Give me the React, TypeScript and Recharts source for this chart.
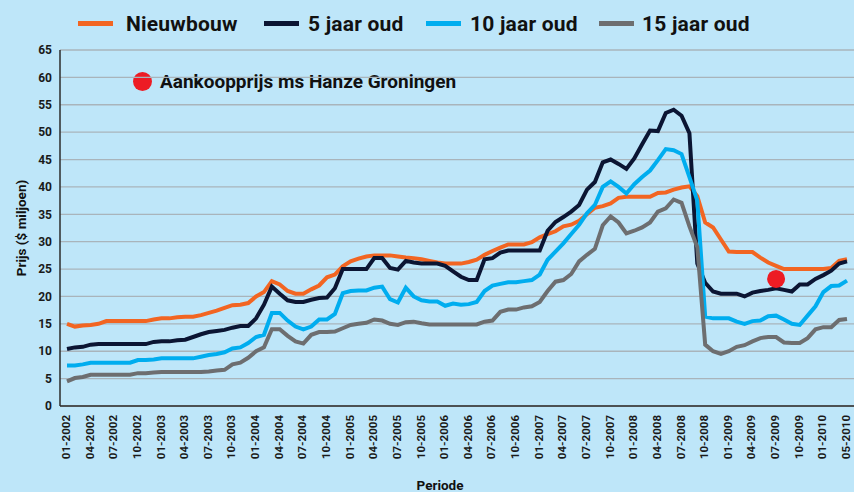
import { LineChart, Line, XAxis, YAxis, CartesianGrid, ReferenceDot } from 'recharts';

// maandlabels 01-2002 .. 03-2010, daarna 05-2010 (zoals in de bron)
const categories: string[] = [...Array(99)]
    .map((_, i) => `${String((i % 12) + 1).padStart(2, '0')}-${2002 + Math.floor(i / 12)}`)
    .concat(['05-2010']);

const nieuwbouw = [
    15.0, 14.5, 14.7, 14.8, 15.0, 15.5, 15.5, 15.5, 15.5, 15.5, 15.5, 15.8, 16.0, 16.0, 16.2, 16.3, 16.3, 16.6, 17.0, 17.4,
    17.9, 18.4, 18.5, 18.8, 20.0, 20.8, 22.8, 22.2, 21.0, 20.5, 20.5, 21.3, 22.0, 23.5, 24.0, 25.5, 26.4, 26.9, 27.3, 27.5,
    27.5, 27.5, 27.3, 27.1, 27.0, 26.8, 26.5, 26.2, 26.0, 26.0, 26.0, 26.3, 26.7, 27.6, 28.3, 28.9, 29.5, 29.5, 29.5, 29.9,
    30.8, 31.4, 31.9, 32.8, 33.1, 33.8, 35.0, 36.2, 36.5, 37.0, 38.0, 38.2, 38.2, 38.2, 38.2, 38.9, 39.0, 39.5, 39.9, 40.1,
    38.3, 33.5, 32.6, 30.4, 28.2, 28.1, 28.1, 28.1, 27.1, 26.2, 25.6, 25.0, 25.0, 25.0, 25.0, 25.0, 25.0, 25.2, 26.5, 26.8,
];

const jaar5 = [
    10.4, 10.7, 10.8, 11.2, 11.3, 11.3, 11.3, 11.3, 11.3, 11.3, 11.3, 11.7, 11.8, 11.8, 12.0, 12.1, 12.6, 13.1, 13.5, 13.7,
    13.9, 14.3, 14.6, 14.6, 16.0, 18.5, 21.8, 20.5, 19.3, 19.0, 19.0, 19.4, 19.7, 19.8, 21.5, 25.0, 25.0, 25.0, 25.0, 27.0,
    27.0, 25.2, 24.9, 26.5, 26.2, 26.0, 26.0, 26.0, 25.6, 24.6, 23.6, 23.0, 23.0, 26.8, 27.0, 28.0, 28.4, 28.4, 28.4, 28.4,
    28.4, 32.0, 33.6, 34.5, 35.5, 36.7, 39.5, 40.9, 44.5, 45.0, 44.2, 43.3, 45.2, 47.8, 50.3, 50.2, 53.5, 54.1, 53.0, 49.8,
    26.0, 22.5, 20.9, 20.5, 20.5, 20.5, 20.0, 20.7, 21.0, 21.2, 21.5, 21.2, 20.9, 22.2, 22.2, 23.2, 23.9, 24.7, 26.0, 26.4,
];

const jaar10 = [
    7.4, 7.4, 7.6, 7.9, 7.9, 7.9, 7.9, 7.9, 7.9, 8.4, 8.4, 8.5, 8.7, 8.7, 8.7, 8.7, 8.7, 9.0, 9.3, 9.5,
    9.8, 10.5, 10.7, 11.5, 12.6, 13.0, 17.0, 17.0, 15.6, 14.5, 14.0, 14.5, 15.8, 15.8, 16.8, 20.6, 21.0, 21.1, 21.1, 21.6,
    21.8, 19.5, 18.9, 21.6, 20.0, 19.3, 19.1, 19.1, 18.3, 18.7, 18.5, 18.6, 19.0, 21.0, 22.0, 22.3, 22.6, 22.6, 22.8, 23.0,
    24.0, 26.7, 28.2, 29.7, 31.4, 33.1, 35.2, 36.7, 40.0, 41.0, 40.0, 38.8, 40.5, 41.8, 43.0, 44.9, 46.9, 46.7, 46.0, 41.8,
    37.5, 16.3, 16.0, 16.0, 16.0, 15.4, 15.0, 15.5, 15.6, 16.4, 16.5, 15.8, 15.0, 14.8, 16.5, 18.2, 20.8, 21.9, 22.0, 22.9,
];

const jaar15 = [
    4.5, 5.1, 5.3, 5.7, 5.7, 5.7, 5.7, 5.7, 5.7, 6.0, 6.0, 6.1, 6.2, 6.2, 6.2, 6.2, 6.2, 6.2, 6.3, 6.5,
    6.6, 7.6, 7.9, 8.8, 10.0, 10.7, 14.0, 14.0, 12.8, 11.8, 11.4, 13.0, 13.5, 13.5, 13.6, 14.2, 14.8, 15.0, 15.2, 15.8,
    15.6, 15.0, 14.8, 15.3, 15.4, 15.1, 14.9, 14.9, 14.9, 14.9, 14.9, 14.9, 14.9, 15.4, 15.6, 17.2, 17.6, 17.6, 18.0, 18.2,
    19.0, 21.0, 22.7, 23.0, 24.1, 26.4, 27.6, 28.7, 33.0, 34.6, 33.5, 31.5, 32.0, 32.6, 33.5, 35.5, 36.1, 37.7, 37.1, 32.8,
    29.0, 11.2, 10.0, 9.5, 10.0, 10.8, 11.1, 11.8, 12.4, 12.6, 12.6, 11.6, 11.5, 11.5, 12.4, 14.0, 14.4, 14.4, 15.7, 15.9,
];

const yTicks = [0, 5, 10, 15, 20, 25, 30, 35, 40, 45, 50, 55, 60, 65];

const aankoopMaand = '07-2009';
const aankoopPrijs = 23.2;
const aankoopLabel = 'Aankoopprijs ms Hanze Groningen';

const series = [
    { key: 'nieuwbouw', name: 'Nieuwbouw', color: '#f26522' },
    { key: 'jaar5', name: '5 jaar oud', color: '#0b1533' },
    { key: 'jaar10', name: '10 jaar oud', color: '#00adef' },
    { key: 'jaar15', name: '15 jaar oud', color: '#6d6e70' },
];

// plaats van lijnstukje en tekst per legenda-item (px)
const legendPos = [
    { line: 78, text: 126 },
    { line: 264, text: 308 },
    { line: 426, text: 470 },
    { line: 599, text: 642 },
];

const data = categories.map((periode, i) => ({
    periode,
    nieuwbouw: nieuwbouw[i],
    jaar5: jaar5[i],
    jaar10: jaar10[i],
    jaar15: jaar15[i],
}));

const font = 'Roboto, sans-serif';

function MonthTick(props: any) {
    const { x, y, payload } = props;
    return (
        <text
            transform={`translate(${x + 3},${y + 1}) rotate(-90)`}
            textAnchor="end"
            fontFamily={font}
            fontWeight={700}
            fontSize={11.5}
            fill="#1a1a1a"
        >
            {payload.value}
        </text>
    );
}

export default function App() {
    return (
        <div
            style={{
                position: 'absolute',
                left: 0,
                top: 0,
                width: 854,
                height: 492,
                overflow: 'hidden',
                background: '#bee6f9',
                fontFamily: font,
            }}
        >
            {/* legenda */}
            {series.map((s, i) => (
                <div key={s.key}>
                    <span
                        style={{
                            position: 'absolute',
                            left: legendPos[i].line,
                            top: 21,
                            width: 35,
                            height: 5,
                            background: s.color,
                        }}
                    />
                    <span
                        style={{
                            position: 'absolute',
                            left: legendPos[i].text,
                            top: 10,
                            lineHeight: '28px',
                            fontSize: 21,
                            fontWeight: 700,
                            letterSpacing: 0.2,
                            color: '#111',
                            whiteSpace: 'nowrap',
                        }}
                    >
                        {s.name}
                    </span>
                </div>
            ))}

            <div style={{ position: 'absolute', left: 133, top: 70, display: 'flex', alignItems: 'center', height: 22 }}>
                <span style={{ display: 'inline-block', width: 19, height: 19, borderRadius: '50%', background: '#ed1c24', marginRight: 8 }} />
                <span style={{ fontSize: 19, fontWeight: 700, color: '#111', whiteSpace: 'nowrap' }}>{aankoopLabel}</span>
            </div>

            <div
                style={{
                    position: 'absolute',
                    left: 21,
                    top: 228,
                    transform: 'translate(-50%, -50%) rotate(-90deg)',
                    whiteSpace: 'nowrap',
                    fontSize: 13.5,
                    fontWeight: 700,
                    color: '#111',
                }}
            >
                Prijs ($ miljoen)
            </div>

            <div
                style={{
                    position: 'absolute',
                    left: 440,
                    top: 485,
                    transform: 'translate(-50%, -50%)',
                    fontSize: 13.5,
                    fontWeight: 700,
                    color: '#111',
                }}
            >
                Periode
            </div>

            <div style={{ position: 'absolute', left: 0, top: 0 }}>
                <LineChart width={854} height={492} data={data} margin={{ top: 50, right: 0, bottom: 0, left: 0 }}>
                    <CartesianGrid vertical={false} stroke="#a9b4bb" strokeWidth={1.3} />
                    <XAxis
                        dataKey="periode"
                        interval={2}
                        height={86}
                        tickLine={false}
                        axisLine={{ stroke: '#2b2b2b', strokeWidth: 1.5 }}
                        padding={{ left: 7, right: 7 }}
                        tick={<MonthTick />}
                    />
                    <YAxis
                        width={60}
                        domain={[0, 65]}
                        ticks={yTicks}
                        interval={0}
                        tickLine={false}
                        axisLine={{ stroke: '#2b2b2b', strokeWidth: 1.5 }}
                        tick={{ fontFamily: font, fontWeight: 700, fontSize: 12, fill: '#1a1a1a' }}
                    />
                    {series.map((s) => (
                        <Line
                            key={s.key}
                            type="linear"
                            dataKey={s.key}
                            name={s.name}
                            stroke={s.color}
                            strokeWidth={4}
                            dot={false}
                            activeDot={false}
                            isAnimationActive={false}
                        />
                    ))}
                    <ReferenceDot x={aankoopMaand} y={aankoopPrijs} r={9} fill="#ed1c24" stroke="none" />
                </LineChart>
            </div>
        </div>
    );
}
